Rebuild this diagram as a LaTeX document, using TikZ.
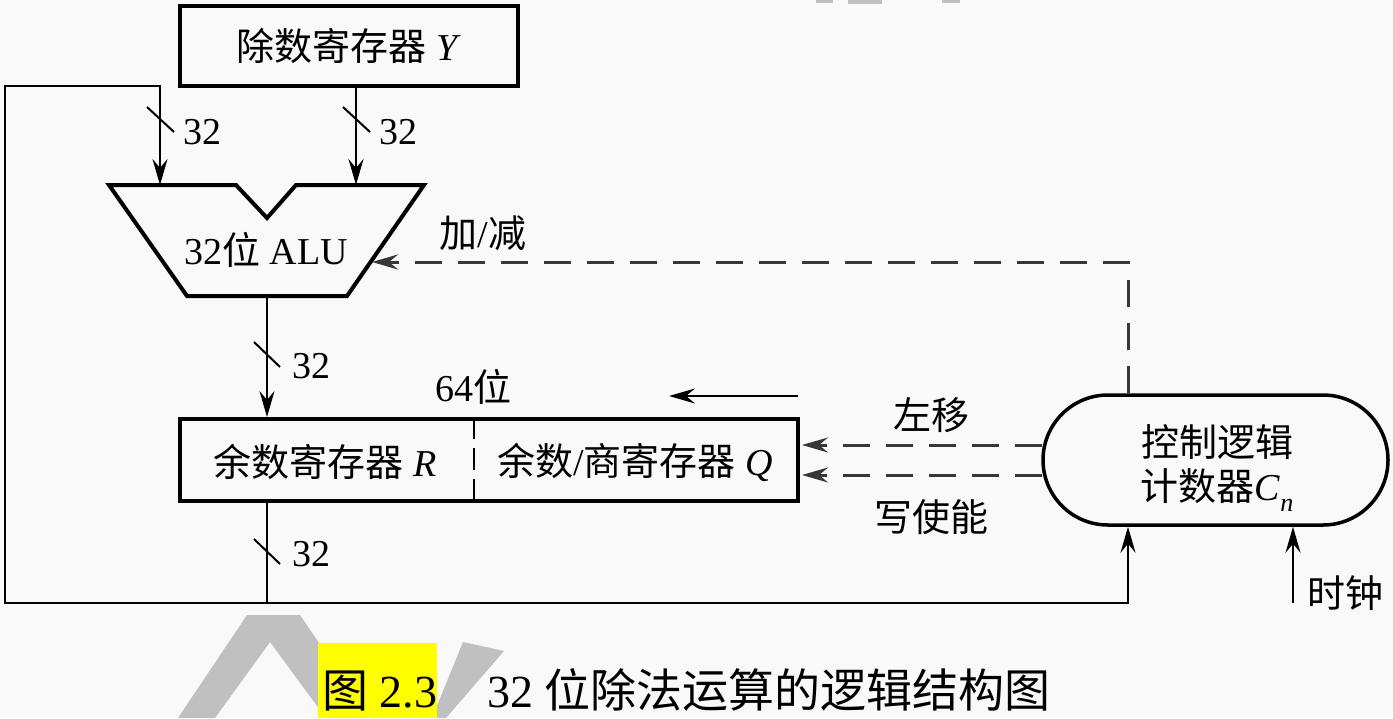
\documentclass[tikz,border=0pt]{standalone}
\usepackage{fontspec}
\setmainfont{Liberation Serif}
\newfontfamily\cjk{Noto Sans CJK SC}
\usetikzlibrary{arrows.meta,calc}
\definecolor{bg}{RGB}{249,249,249}
\definecolor{wm}{RGB}{192,192,192}
\definecolor{dashc}{RGB}{55,55,55}
\definecolor{hl}{RGB}{255,255,0}
\begin{document}
\begin{tikzpicture}[x=1pt,y=-1pt,
  every node/.style={font=\fontsize{38}{44}\selectfont, inner sep=0pt, text=black},
  regbox/.style={draw, line width=4pt},
  ln/.style={line width=2pt},
  tip/.style={-{Stealth[length=26pt,width=15pt,inset=9pt]}},
  arr/.style={ln, tip},
  dsh/.style={line width=3pt, draw=dashc, dash pattern=on 27pt off 16pt},
  darr/.style={dsh, -{Stealth[length=26pt,width=15pt,inset=9pt,fill=dashc]}},
  slash/.style={line width=2pt},
  capfont/.style={font=\fontsize{46}{50}\selectfont}
]
\fill[bg] (0,0) rectangle (1393,718);
\useasboundingbox (0,0) rectangle (1393,718);

% watermark
\fill[wm] (247,615) -- (300,615) -- (370,718) -- (326,718) -- (270,642) -- (215,718) -- (178,718) -- cycle;
\fill[wm] (463,642) -- (504,651) -- (446,718) -- (432,718) -- cycle;
\fill[wm] (816,0) rectangle (833,3);
\fill[wm] (848,0) rectangle (882,4);
\fill[wm] (942,0) rectangle (960,3);

% divisor register
\node[regbox, minimum width=338pt, minimum height=80pt] (Y) at (349,46) {{\cjk 除数寄存器} \textit{Y}};

% ALU
\draw[line width=4pt, line join=miter] (109,185) -- (236,185) -- (267,218) -- (296,185) -- (424,185) -- (347,296) -- (187,296) -- cycle;
\node (alu) at (266,250) {32{\cjk 位} ALU};
\coordinate (aluL) at (160,185);
\coordinate (aluR) at (356,185);
\coordinate (aluB) at (267,296);
\coordinate (aluC) at (372,262);

% remainder register
\node[regbox, minimum width=618pt, minimum height=82pt] (R) at (489,460) {};
\coordinate (div) at (474,460);
\draw[line width=2.5pt, dash pattern=on 22pt off 9pt] (R.north -| div) -- (R.south -| div);
\node (Rl) at (325,462) {{\cjk 余数寄存器} \textit{R}};
\node (Ql) at (635,462) {{\cjk 余数}/{\cjk 商寄存器} \textit{Q}};

% control
\node[draw, line width=3.5pt, rounded corners=65pt, minimum width=345pt, minimum height=130pt] (ctrl) at (1215.5,460) {};
\node[align=center] (ctxt) at (1217,468) {{\cjk 控制逻辑}\\{\cjk 计数器}\textit{C}\raisebox{-0.3em}{\fontsize{26}{26}\selectfont\textit{n}}};

% coordinates
\coordinate (j) at (267,603);
\coordinate (bl) at (5,603);
\coordinate (tl) at (5,86);
\coordinate (ctap) at ($(ctrl.south)+(-87.5,0)$);
\coordinate (ctop) at ($(ctrl.north)+(-87.5,0)$);
\coordinate (clk) at (1293,603);
\coordinate (sh1) at (798,396);
\coordinate (sh2) at (669,396);

% connectors
\draw[arr] (Y.south -| aluR) -- (aluR);
\draw[arr] (j) -- (bl) -- (tl) -- (tl -| aluL) -- (aluL);
\draw[arr] (aluB) -- (R.north -| aluB);
\draw[ln] (R.south -| aluB) -- (j);
\draw[arr] (j) -| (ctap);
\draw[arr] (clk) -- (clk |- ctrl.south);
\draw[darr] (ctop) |- (aluC);
\draw[darr] ($(ctrl.west)+(1,-15)$) -- ($(R.east)+(2,-15)$);
\draw[darr] ($(ctrl.west)+(1,15)$) -- ($(R.east)+(2,15)$);
\draw[arr] (sh1) -- (sh2);

% bus slashes
\draw[slash] (147,107) -- (174,132);
\draw[slash] (343,107) -- (370,132);
\draw[slash] (254,342) -- (280,367);
\draw[slash] (254,539) -- (280,564);

% labels
\node (n1) at (202,132) {32};
\node (n2) at (398,132) {32};
\node (n3) at (311,366) {32};
\node (n4) at (311,554) {32};
\node (as) at (483,233) {{\cjk 加}/{\cjk 减}};
\node (b64) at (473,387) {64{\cjk 位}};
\node (lm) at (931,415) {\cjk 左移};
\node (we) at (931,517) {\cjk 写使能};
\node (clkl) at (1345,593) {\cjk 时钟};

% caption
\node[fill=hl, minimum width=119pt, minimum height=75pt, anchor=north west] (hlbox) at (318,643) {};
\node[capfont, anchor=base west] (fig) at (322,707) {{\cjk 图} 2.3};
\node[capfont, anchor=base west] (cap) at (487,707) {32 {\cjk 位除法运算的逻辑结构图}};
\end{tikzpicture}
\end{document}
